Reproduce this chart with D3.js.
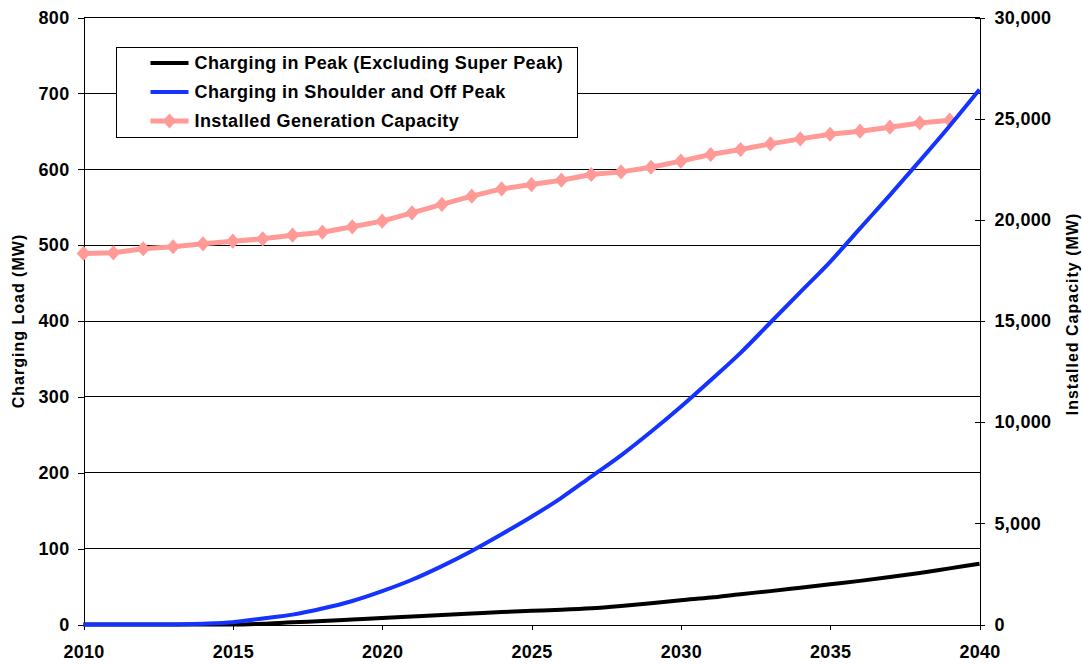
<!DOCTYPE html>
<html>
<head>
<meta charset="utf-8">
<script src="https://cdn.jsdelivr.net/npm/d3@7"></script>
<style>
  body { margin: 0; background: #fff; }
  svg { display: block; font-family: "Liberation Sans", Arial, Helvetica, sans-serif; font-weight: bold; }
  .axis text { font-size: 18px; font-weight: bold; fill: #000; letter-spacing: 0.3px; }
  .axis line, .axis path { stroke: #000; stroke-width: 1px; shape-rendering: crispEdges; }
  .grid line { stroke: #000; stroke-width: 1px; shape-rendering: crispEdges; }
</style>
</head>
<body>
<svg id="chart" width="1082" height="664"></svg>
<script>
// years on the x axis
var years = [2010, 2011, 2012, 2013, 2014, 2015, 2016, 2017, 2018, 2019,
  2020, 2021, 2022, 2023, 2024, 2025, 2026, 2027, 2028, 2029,
  2030, 2031, 2032, 2033, 2034, 2035, 2036, 2037, 2038, 2039, 2040];

// charging in peak (excluding super peak), MW
var peakLoad = [0, 0, 0, 0, 0, 0, 1, 3, 4.5, 6.5,
  8.5, 10.5, 12.5, 14.5, 16.5, 18, 19.5, 21.5, 24.5, 28,
  32, 35.5, 40, 44, 48.5, 53, 57.5, 62.5, 68, 74, 80];

// charging in shoulder and off peak, MW
var offPeakLoad = [0, 0, 0, 0, 1, 3, 8, 13, 21, 31,
  44, 59, 77, 97, 119, 142, 167, 195, 223, 254,
  287, 322, 358, 398, 438, 478, 522, 566, 611, 657, 705];

// installed generation capacity, MW (2010 - 2039)
var capacity = [18340, 18370, 18570, 18670, 18815, 18945, 19060, 19240, 19390, 19655,
  19935, 20345, 20760, 21170, 21530, 21745, 21960, 22240, 22370, 22600,
  22900, 23230, 23475, 23755, 24000, 24230, 24380, 24580, 24790, 24925];

var yearTicks = [2010, 2015, 2020, 2025, 2030, 2035, 2040];
var loadTicks = [0, 100, 200, 300, 400, 500, 600, 700, 800];
var capTicks = [0, 5000, 10000, 15000, 20000, 25000, 30000];

var legendLabels = ["Charging in Peak (Excluding Super Peak)",
  "Charging in Shoulder and Off Peak",
  "Installed Generation Capacity"];

var colors = {peak: "#000000", offPeak: "#1433ff", cap: "#ff9a96"};

(function () {
  var svg = d3.select("#chart"),
    pLeft = 83.5, pRight = 979.5, pTop = 17.5, pBottom = 624.5;

  var x = d3.scaleLinear().domain([2010, 2040]).range([pLeft, pRight]);
  var y = d3.scaleLinear().domain([0, 800]).range([pBottom, pTop]);
  var y2 = d3.scaleLinear().domain([0, 30000]).range([pBottom, pTop]);

  // gridlines
  svg.append("g")
    .attr("class", "grid")
    .selectAll("line")
    .data(loadTicks.filter(function (d) { return d > 0; }))
    .enter().append("line")
    .attr("x1", pLeft)
    .attr("x2", pRight)
    .attr("y1", function (d) { return y(d); })
    .attr("y2", function (d) { return y(d); });

  // axes
  svg.append("g")
    .attr("class", "axis")
    .attr("transform", "translate(0," + pBottom + ")")
    .call(d3.axisBottom(x).tickValues(yearTicks).tickFormat(d3.format("d")).tickSizeOuter(0).tickSize(5).tickPadding(16));

  svg.append("g")
    .attr("class", "axis")
    .attr("transform", "translate(" + pLeft + ",0)")
    .call(d3.axisLeft(y).tickValues(loadTicks).tickSizeOuter(0).tickSize(6).tickPadding(8));

  var gy2 = svg.append("g")
    .attr("class", "axis")
    .attr("transform", "translate(" + pRight + ",0)")
    .call(d3.axisRight(y2).tickValues(capTicks).tickFormat(d3.format(",")).tickSizeOuter(0).tickSize(5).tickPadding(10));
  gy2.selectAll(".tick line").attr("x1", -5);

  // axis titles
  svg.append("text")
    .attr("transform", "translate(24,321) rotate(-90)")
    .attr("text-anchor", "middle")
    .style("font-size", "16px")
    .style("letter-spacing", "1px")
    .text("Charging Load (MW)");

  svg.append("text")
    .attr("transform", "translate(1078,314) rotate(-90)")
    .attr("text-anchor", "middle")
    .style("font-size", "16px")
    .style("letter-spacing", "1px")
    .text("Installed Capacity (MW)");

  // series
  var capData = capacity.map(function (v, i) { return {year: years[i], value: v}; });
  var capLine = d3.line()
    .x(function (d) { return x(d.year); })
    .y(function (d) { return y2(d.value); });

  svg.append("path")
    .datum(capData)
    .attr("fill", "none")
    .attr("stroke", colors.cap)
    .attr("stroke-width", 5)
    .attr("stroke-linejoin", "round")
    .attr("d", capLine);

  // excel style diamond, nearly square
  var diamondType = {
    draw: function (context, size) {
      var w = 6.8, h = 7.6;
      context.moveTo(0, -h);
      context.lineTo(w, 0);
      context.lineTo(0, h);
      context.lineTo(-w, 0);
      context.closePath();
    }
  };
  var diamond = d3.symbol().type(diamondType);

  svg.append("g")
    .selectAll("path")
    .data(capData)
    .enter().append("path")
    .attr("transform", function (d) { return "translate(" + x(d.year) + "," + y2(d.value) + ")"; })
    .attr("d", diamond)
    .attr("fill", colors.cap);

  var loadLine = d3.line()
    .x(function (d, i) { return x(years[i]); })
    .y(function (d) { return y(d); })
    .curve(d3.curveMonotoneX);

  svg.append("path")
    .datum(peakLoad)
    .attr("fill", "none")
    .attr("stroke", colors.peak)
    .attr("stroke-width", 4)
    .attr("d", loadLine);

  svg.append("path")
    .datum(offPeakLoad)
    .attr("fill", "none")
    .attr("stroke", colors.offPeak)
    .attr("stroke-width", 4)
    .attr("d", loadLine);

  // legend
  var legend = svg.append("g").attr("transform", "translate(116.5,47.5)");
  legend.append("rect")
    .attr("width", 461)
    .attr("height", 90)
    .attr("fill", "#fff")
    .attr("stroke", "#000")
    .attr("stroke-width", 1);

  var legendColors = [colors.peak, colors.offPeak, colors.cap];
  var rows = legend.selectAll(".row")
    .data(legendLabels)
    .enter().append("g")
    .attr("class", "row")
    .attr("transform", function (d, i) { return "translate(0," + (15.5 + i * 29) + ")"; });

  rows.append("line")
    .attr("x1", 34)
    .attr("x2", 72)
    .attr("stroke", function (d, i) { return legendColors[i]; })
    .attr("stroke-width", function (d, i) { return i === 2 ? 5 : 4; });

  rows.filter(function (d, i) { return i === 2; })
    .append("path")
    .attr("transform", "translate(53,0)")
    .attr("d", diamond)
    .attr("fill", colors.cap);

  rows.append("text")
    .attr("x", 78)
    .attr("dy", "0.35em")
    .style("font-size", "18px")
    .style("letter-spacing", "0.4px")
    .text(function (d) { return d; });
})();
</script>
</body>
</html>
